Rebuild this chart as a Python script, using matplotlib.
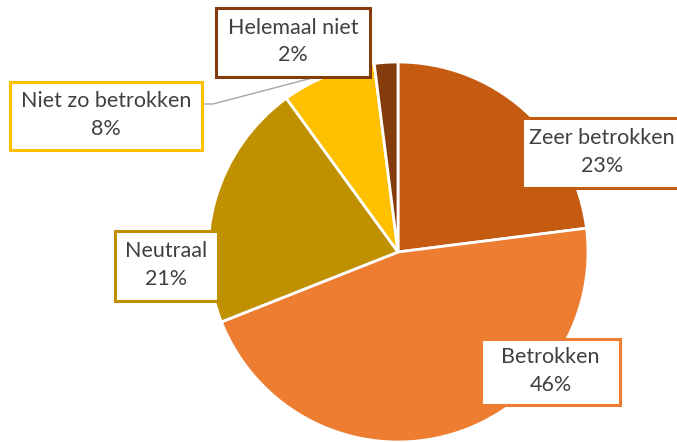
import matplotlib.pyplot as plt
from matplotlib.patches import Rectangle

labels = ['Zeer betrokken', 'Betrokken', 'Neutraal', 'Niet zo betrokken', 'Helemaal niet']
values = [23, 46, 21, 8, 2]
colors = ['#C55A11', '#ED7D31', '#BF9000', '#FFC000', '#843C0C']

# label boxes in pixels from bottom-left: (x0, y0, x1, y1)
label_boxes = [(522, 254, 700, 324), (481, 37, 620, 103), (115, 141, 218, 211),
               (10, 292, 202, 360), (216, 365, 370, 434)]

plt.rcParams['font.family'] = ['Lato', 'DejaVu Sans']

fig = plt.figure(figsize=(6.77, 4.42), dpi=100)
ax = fig.add_axes([0, 0, 1, 1])

ax.pie(values, colors=colors, startangle=90, counterclock=False,
       center=(398, 190), radius=190,
       wedgeprops=dict(edgecolor='white', linewidth=2))

# pie() resets the limits, so set them afterwards
ax.set_xlim(0, 677)
ax.set_ylim(0, 442)
ax.set_aspect('equal')
ax.set_axis_off()

# leader line for the small slice label
ax.plot([202, 213, 316], [338, 338, 365], color='#A6A6A6', lw=1, zorder=1)

for lab, v, c, (x0, y0, x1, y1) in zip(labels, values, colors, label_boxes):
    ax.add_patch(Rectangle((x0, y0), x1 - x0, y1 - y0, fc='white', ec=c,
                           lw=2.2, zorder=4, clip_on=False))
    xc = (x0 + 682) / 2 if x1 > 677 else (x0 + x1) / 2
    ax.text(xc, (y0 + y1) / 2 + 1, '%s\n%d%%' % (lab, v), ha='center', va='center',
            fontsize=15.5, color='#404040', linespacing=1.45, zorder=5)

fig.savefig('out.png', dpi=100)
